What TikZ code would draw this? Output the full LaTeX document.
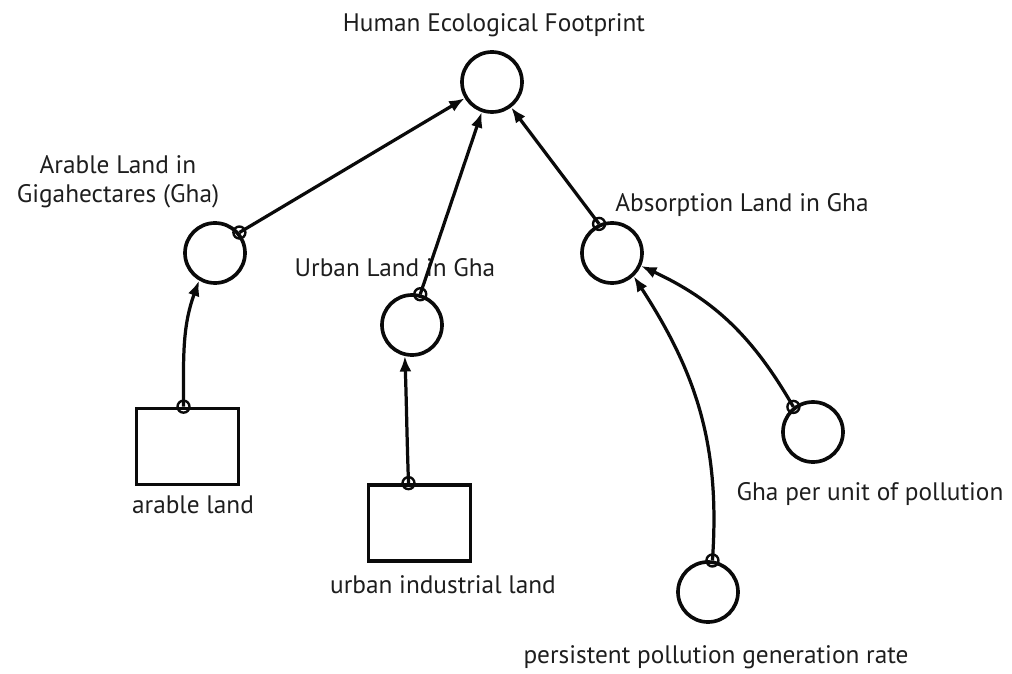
\documentclass[tikz,border=0pt]{standalone}
\usepackage{fontspec}
\setmainfont{PT Sans}
\usetikzlibrary{arrows.meta,positioning,calc}
\definecolor{diagInk}{RGB}{10,10,10}
\definecolor{labelGray}{RGB}{30,30,30}

\begin{document}
\begin{tikzpicture}[x=0.025cm, y=0.025cm,
  every node/.style={font=\fontsize{18}{21}\selectfont, text=labelGray},
  auxVar/.style={draw=diagInk, circle, line width=2.6pt, minimum size=1.5cm, inner sep=0pt},
  stockBox/.style={draw=diagInk, rectangle, line width=2.6pt, minimum width=2.55cm, minimum height=1.9cm, inner sep=0pt},
  linkArrow/.style={draw=diagInk, line width=2.3pt, -{Latex[length=11pt,width=8.5pt]}},
  linkTail/.style={draw=diagInk, line width=1.7pt}]
  \useasboundingbox (0,0) rectangle (1012,673);
  % variables
  \node[auxVar] (footprint) at (492,591) {};
  \node[auxVar] (arableVar) at (215,420) {};
  \node[auxVar] (urbanVar) at (412,348) {};
  \node[auxVar] (absorbVar) at (612,420) {};
  \node[auxVar] (ghaUnit) at (813,241) {};
  \node[auxVar] (pollRate) at (708,81) {};
  \node[stockBox] (arableStock) at (187.5,226.5) {};
  \node[stockBox] (urbanStock) at (419.5,150) {};
  % labels
  \node (footprintLbl) at (494,648) {Human Ecological Footprint};
  \node[align=center] (arableLbl) at (118,491) {Arable Land in\\Gigahectares (Gha)};
  \node (urbanLbl) at (395,405) {Urban Land in Gha};
  \node (absorbLbl) at (742,468) {Absorption Land in Gha};
  \node (ghaUnitLbl) at (870,179) {Gha per unit of pollution};
  \node (pollRateLbl) at (716,16) {persistent pollution generation rate};
  \node (arableStockLbl) at (193,168) {arable land};
  \node (urbanStockLbl) at (443,88) {urban industrial land};
  % links into the footprint
  \draw[linkArrow] (arableVar.40) -- (footprint);
  \draw[linkTail] (arableVar.40) circle[radius=0.15cm];
  \draw[linkArrow] (urbanVar.75) -- (footprint);
  \draw[linkTail] (urbanVar.75) circle[radius=0.15cm];
  \draw[linkArrow] (absorbVar.114) -- (footprint);
  \draw[linkTail] (absorbVar.114) circle[radius=0.15cm];
  % links from the stocks
  \draw[linkArrow] ($(arableStock.north)+(-4,0)$) to[out=90, in=250] (arableVar.240);
  \draw[linkTail] ($(arableStock.north)+(-4,0)$) circle[radius=0.15cm];
  \draw[linkArrow] ($(urbanStock.north)+(-11,0)$) to[out=92, in=272] (urbanVar.257);
  \draw[linkTail] ($(urbanStock.north)+(-11,0)$) circle[radius=0.15cm];
  % links into absorption land
  \draw[linkArrow] (ghaUnit.128) to[out=120, in=335] (absorbVar.336);
  \draw[linkTail] (ghaUnit.128) circle[radius=0.15cm];
  \draw[linkArrow] (pollRate.82) to[out=86, in=303] (absorbVar.313);
  \draw[linkTail] (pollRate.82) circle[radius=0.15cm];
\end{tikzpicture}
\end{document}
